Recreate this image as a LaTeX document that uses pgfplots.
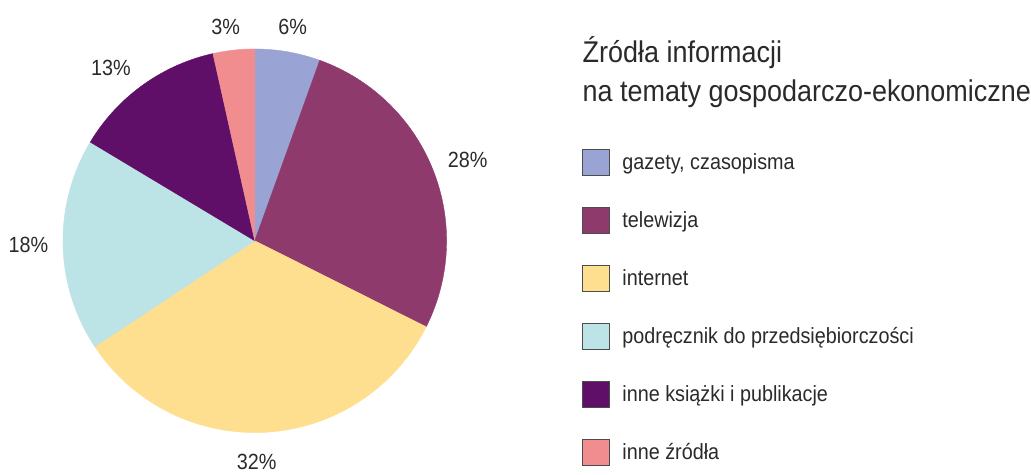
\documentclass[border=0pt]{standalone}
\usepackage{fontspec}
\setmainfont{Liberation Sans}[FakeStretch=0.9]
\usepackage{pgfplots}
\pgfplotsset{compat=1.18}
\definecolor{cGaz}{HTML}{99A4D4}
\definecolor{cTel}{HTML}{8E3A6D}
\definecolor{cInt}{HTML}{FDDF8F}
\definecolor{cPod}{HTML}{BCE3E6}
\definecolor{cKsi}{HTML}{5F0F68}
\definecolor{cZro}{HTML}{F28D8F}
\definecolor{txt}{HTML}{2A2A2A}
% shares of the pie (percent), clockwise from the top
\def\vGaz{5.5}
\def\vTel{26.9}
\def\vInt{33.3}
\def\vPod{17.9}
\def\vKsi{12.9}
\def\vZro{3.5}
\pgfmathsetmacro\aA{90}
\pgfmathsetmacro\aB{\aA-3.6*\vGaz}
\pgfmathsetmacro\aC{\aB-3.6*\vTel}
\pgfmathsetmacro\aD{\aC-3.6*\vInt}
\pgfmathsetmacro\aE{\aD-3.6*\vPod}
\pgfmathsetmacro\aF{\aE-3.6*\vKsi}
\pgfmathsetmacro\aG{\aF-3.6*\vZro}
\def\cx{255}
\def\cy{234}
\def\rr{192}
\begin{document}
\begin{tikzpicture}
\begin{axis}[
  scale only axis, width=1031pt, height=475pt,
  xmin=0, xmax=1031, ymin=0, ymax=475,
  hide axis, clip=false,
  legend style={at={(axis cs:583,326)}, anchor=north west, draw=none, fill=none,
    inner sep=0pt, outer sep=0pt, row sep=31pt,
    nodes={inner sep=0pt, anchor=west, text=txt, font=\fontsize{22}{24}\selectfont},
    /tikz/every odd column/.append style={column sep=12pt}},
  legend cell align=left,
  legend image code/.code={\draw[line width=1pt, draw=black!70, #1] (0pt,-13pt) rectangle (27pt,13pt);},
]
\path (axis cs:0,0) rectangle (axis cs:1031,475);
\addplot[fill=cGaz, draw=cGaz, line width=0.4pt, domain=\aB:\aA, samples=30, variable=\t]
  ({\cx+\rr*cos(\t)}, {\cy+\rr*sin(\t)}) -- (axis cs:\cx,\cy) -- cycle;
\addlegendentry{gazety, czasopisma}
\addplot[fill=cTel, draw=cTel, line width=0.4pt, domain=\aC:\aB, samples=80, variable=\t]
  ({\cx+\rr*cos(\t)}, {\cy+\rr*sin(\t)}) -- (axis cs:\cx,\cy) -- cycle;
\addlegendentry{telewizja}
\addplot[fill=cInt, draw=cInt, line width=0.4pt, domain=\aD:\aC, samples=90, variable=\t]
  ({\cx+\rr*cos(\t)}, {\cy+\rr*sin(\t)}) -- (axis cs:\cx,\cy) -- cycle;
\addlegendentry{internet}
\addplot[fill=cPod, draw=cPod, line width=0.4pt, domain=\aE:\aD, samples=60, variable=\t]
  ({\cx+\rr*cos(\t)}, {\cy+\rr*sin(\t)}) -- (axis cs:\cx,\cy) -- cycle;
\addlegendentry{podręcznik do przedsiębiorczości}
\addplot[fill=cKsi, draw=cKsi, line width=0.4pt, domain=\aF:\aE, samples=50, variable=\t]
  ({\cx+\rr*cos(\t)}, {\cy+\rr*sin(\t)}) -- (axis cs:\cx,\cy) -- cycle;
\addlegendentry{inne książki i publikacje}
\addplot[fill=cZro, draw=cZro, line width=0.4pt, domain=\aG:\aF, samples=20, variable=\t]
  ({\cx+\rr*cos(\t)}, {\cy+\rr*sin(\t)}) -- (axis cs:\cx,\cy) -- cycle;
\addlegendentry{inne źródła}
% percentage labels
\begin{scope}[every node/.style={inner sep=0pt, text=txt, font=\fontsize{22}{24}\selectfont}]
\node at (axis cs:293,448) {6\%};
\node at (axis cs:468,315) {28\%};
\node at (axis cs:257,12.5) {32\%};
\node at (axis cs:28.5,230) {18\%};
\node at (axis cs:111,407) {13\%};
\node at (axis cs:226,448) {3\%};
\end{scope}
% title
\node[anchor=base west, inner sep=0pt, text=txt, font=\fontsize{30}{34}\selectfont] at (axis cs:583,412) {Źródła informacji};
\node[anchor=base west, inner sep=0pt, text=txt, font=\fontsize{30}{34}\selectfont] at (axis cs:583,373) {na tematy gospodarczo-ekonomiczne};
\end{axis}
\end{tikzpicture}
\end{document}
